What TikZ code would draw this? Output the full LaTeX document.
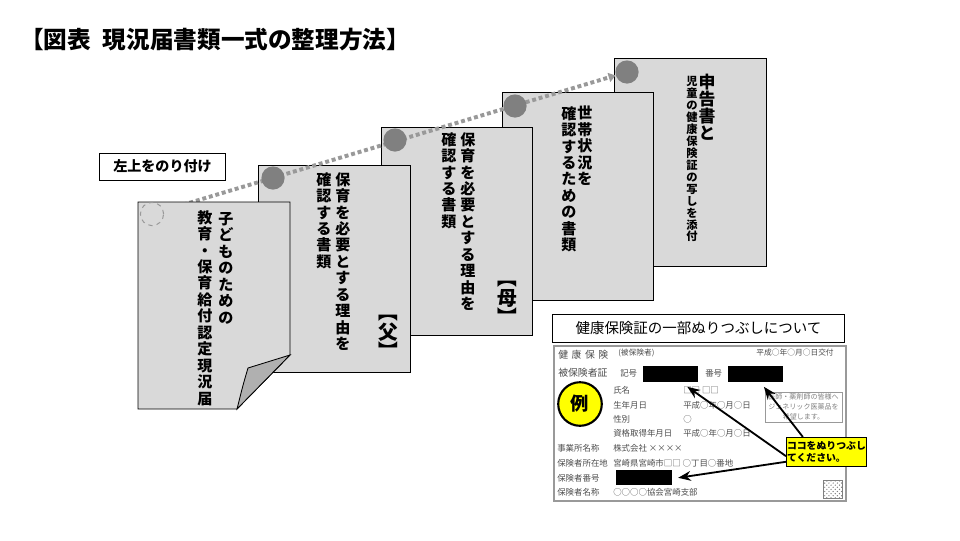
\documentclass[tikz,border=0pt]{standalone}
\usepackage{fontspec}
\setmainfont{Noto Sans CJK JP}
\usetikzlibrary{arrows.meta,patterns,positioning}
\usepackage{xcolor}

\definecolor{paper}{HTML}{D9D9D9}
\definecolor{pin}{HTML}{808080}
\definecolor{flap}{HTML}{B0B0B0}
\definecolor{cardtext}{HTML}{4D4D4D}
\definecolor{marker}{HTML}{FFFF00}

\pgfdeclarelayer{sheets}
\pgfdeclarelayer{glue}
\pgfsetlayers{sheets,glue,main}

% vertical writing: one character per line
\makeatletter
\newcommand\tate[2][11.7pt]{%
  \vbox{\baselineskip=#1\relax\lineskiplimit=-\maxdimen
    \@tfor\tate@c:=#2\do{\hbox to 1.1em{\hss\tate@c\hss}}}}
\makeatother
\newcommand\sheetfont{\bfseries\fontsize{10.7}{11.7}\selectfont}
\newcommand\cardfont{\fontsize{6}{7}\selectfont}

\begin{document}
\begin{tikzpicture}[
    x=0.025cm, y=-0.025cm,
    every node/.style={inner sep=0pt},
    sheet/.style={draw=black, fill=paper, line width=0.6pt},
    pin/.style={circle, fill=pin, minimum size=16.5pt},
    tatecol/.style={anchor=north, font=\sheetfont},
    labelbox/.style={draw=black, line width=0.7pt, fill=white},
    cardlabel/.style={anchor=west, font=\cardfont, text=cardtext},
    blackout/.style={fill=black, anchor=north west},
    glueline/.style={draw=pin!80, line width=2.8pt, dash pattern=on 2.8pt off 2pt, -{Triangle[length=5pt,width=6.5pt]}},
    arrow/.style={-{Stealth[length=9pt,width=7pt]}, line width=1.3pt}
]
\useasboundingbox (0,0) rectangle (960,540);

% Title
\node[anchor=west, font=\bfseries\fontsize{16.8}{18}\selectfont] (title) at (20,40) {【図表\hspace{0.5em}現況届書類一式の整理方法】};

% Stacked sheets (back to front)
\begin{pgfonlayer}{sheets}
\path[sheet] (614,58) rectangle (766,266);
\path[sheet] (502,92) rectangle (653,300);
\path[sheet] (381,127) rectangle (532,335);
\path[sheet] (258,165) rectangle (410,372);
\end{pgfonlayer}

% Sheet 5 - 申告書
\node[pin] (glue5) at (627,72) {};
\node[tatecol, font=\bfseries\fontsize{12}{12}\selectfont] (s5a) at (707,74) {\tate[12pt]{申告書と}};
\node[tatecol, font=\bfseries\fontsize{8}{8.5}\selectfont] (s5b) at (692,76) {\tate[8.5pt]{児童の健康保険証の写しを添付}};

% Sheet 4 - 世帯状況
\node[pin] (glue4) at (515,106) {};
\node[tatecol] (s4a) at (585,106) {\tate{世帯状況を}};
\node[tatecol] (s4b) at (569,106) {\tate{確認するための書類}};

% Sheet 3 - 母
\node[pin] (glue3) at (395,140) {};
\node[tatecol] (s3a) at (468,132) {\tate{保育を必要とする理由を}};
\node[tatecol] (s3b) at (449,132) {\tate{確認する書類}};
\node[font=\bfseries\fontsize{14}{14}\selectfont] (mother) at (507,303) {\tate[14pt]{︻母︼}};

% Sheet 2 - 父
\node[pin] (glue2) at (273,178) {};
\node[tatecol] (s2a) at (343,172) {\tate{保育を必要とする理由を}};
\node[tatecol] (s2b) at (324,172) {\tate{確認する書類}};
\node[font=\bfseries\fontsize{14}{14}\selectfont] (father) at (388,337) {\tate[14pt]{︻父︼}};

% Sheet 1 - 現況届 with turned corner
\path[sheet] (138,202) -- (290,202) -- (290,355) -- (237,409) -- (138,409) -- cycle;
\path[sheet, fill=flap] (290,355) -- (248,368) .. controls (243,385) .. (237,409) -- cycle;
\node[circle, draw=pin!80, dashed, line width=0.7pt, minimum size=16.5pt] (glue1) at (152,214) {};
\node[tatecol] (s1a) at (226,212) {\tate{子どものための}};
\node[tatecol] (s1b) at (205,210) {\tate{教育・保育給付認定現況届}};

% Glue line along the top-left corners
\begin{pgfonlayer}{glue}
\draw[glueline] (glue1) -- (glue5);
\end{pgfonlayer}

\node[labelbox, minimum width=3.125cm, minimum height=0.675cm, font=\bfseries\fontsize{10}{12}\selectfont] (gluelabel) at (162.5,166.5) {左上をのり付け};

% Health insurance card
\node[labelbox, minimum width=7.275cm, minimum height=0.7cm, font=\fontsize{10.3}{12}\selectfont] (cardhead) at (698.5,328) {健康保険証の一部ぬりつぶしについて};
\draw[draw=gray!80, line width=1pt] (554,346) rectangle (846,501);

\node[cardlabel, font=\fontsize{7}{8}\selectfont] (c1) at (558,355) {健\hspace{2.5pt}康\hspace{2.5pt}保\hspace{2.5pt}険};
\node[cardlabel, font=\fontsize{7}{8}\selectfont] (c2) at (558,373) {被保険者証};
\node[cardlabel, font=\fontsize{5.5}{6}\selectfont] (c3) at (618,353) {(被保険者)};
\node[cardlabel, anchor=east, font=\fontsize{5.5}{6}\selectfont] (c4) at (834,353) {平成○年○月○日交付};
\node[cardlabel] (c5) at (620,373) {記号};
\node[blackout, minimum width=1.375cm, minimum height=0.4cm] (kigo) at (643,366) {};
\node[cardlabel] (c6) at (705,373) {番号};
\node[blackout, minimum width=1.375cm, minimum height=0.4cm] (bango) at (728,366) {};

\node[circle, draw=black, line width=1.5pt, fill=marker, minimum size=31pt, font=\bfseries\fontsize{13}{13}\selectfont] (rei) at (580,404) {例};

\node[cardlabel] (c7) at (613,390) {氏名};
\node[cardlabel] (c8) at (613,405) {生年月日};
\node[cardlabel] (c9) at (613,419) {性別};
\node[cardlabel] (c10) at (613,433) {資格取得年月日};
\node[cardlabel] (v7) at (683,390) {□□ □□};
\node[cardlabel] (v8) at (683,405) {平成○年○月○日};
\node[cardlabel] (v9) at (683,419) {○};
\node[cardlabel] (v10) at (683,433) {平成○年○月○日};

\node[draw=gray!80, line width=0.6pt, minimum width=1.925cm, minimum height=0.75cm, align=center, text=gray, font=\fontsize{5}{7}\selectfont] (note) at (803.5,407) {医師・薬剤師の皆様へ\\ジェネリック医薬品を\\希望します。};

\node[cardlabel] (c11) at (557,448) {事業所名称};
\node[cardlabel] (c12) at (557,463) {保険者所在地};
\node[cardlabel] (c13) at (557,478) {保険者番号};
\node[cardlabel] (c14) at (557,492) {保険者名称};
\node[cardlabel] (v11) at (613,448) {株式会社 ××××};
\node[cardlabel] (v12) at (613,463) {宮崎県宮崎市□□ ○丁目○番地};
\node[blackout, minimum width=1.4cm, minimum height=0.375cm] (hokenbango) at (616,470) {};
\node[cardlabel] (v14) at (613,492) {○○○○協会宮崎支部};

\path[draw=gray, pattern=crosshatch dots, pattern color=gray] (823,480) rectangle (842,498);

% Callout and arrows
\node[draw=black, line width=0.6pt, fill=marker, anchor=north west, minimum width=2cm, minimum height=0.725cm, align=left, font=\bfseries\fontsize{7}{9}\selectfont] (callout) at (786,437) {ココをぬりつぶし\\てください。};
\draw[arrow] ([yshift=-3pt]callout.west) -- ([xshift=-8pt,yshift=-3pt]kigo.south east);
\draw[arrow] ([xshift=12pt]callout.north west) -- ([xshift=-14pt,yshift=-3pt]bango.south east);
\draw[arrow] ([yshift=-7pt]callout.west) -- ([xshift=4pt]hokenbango.east);

\end{tikzpicture}
\end{document}
